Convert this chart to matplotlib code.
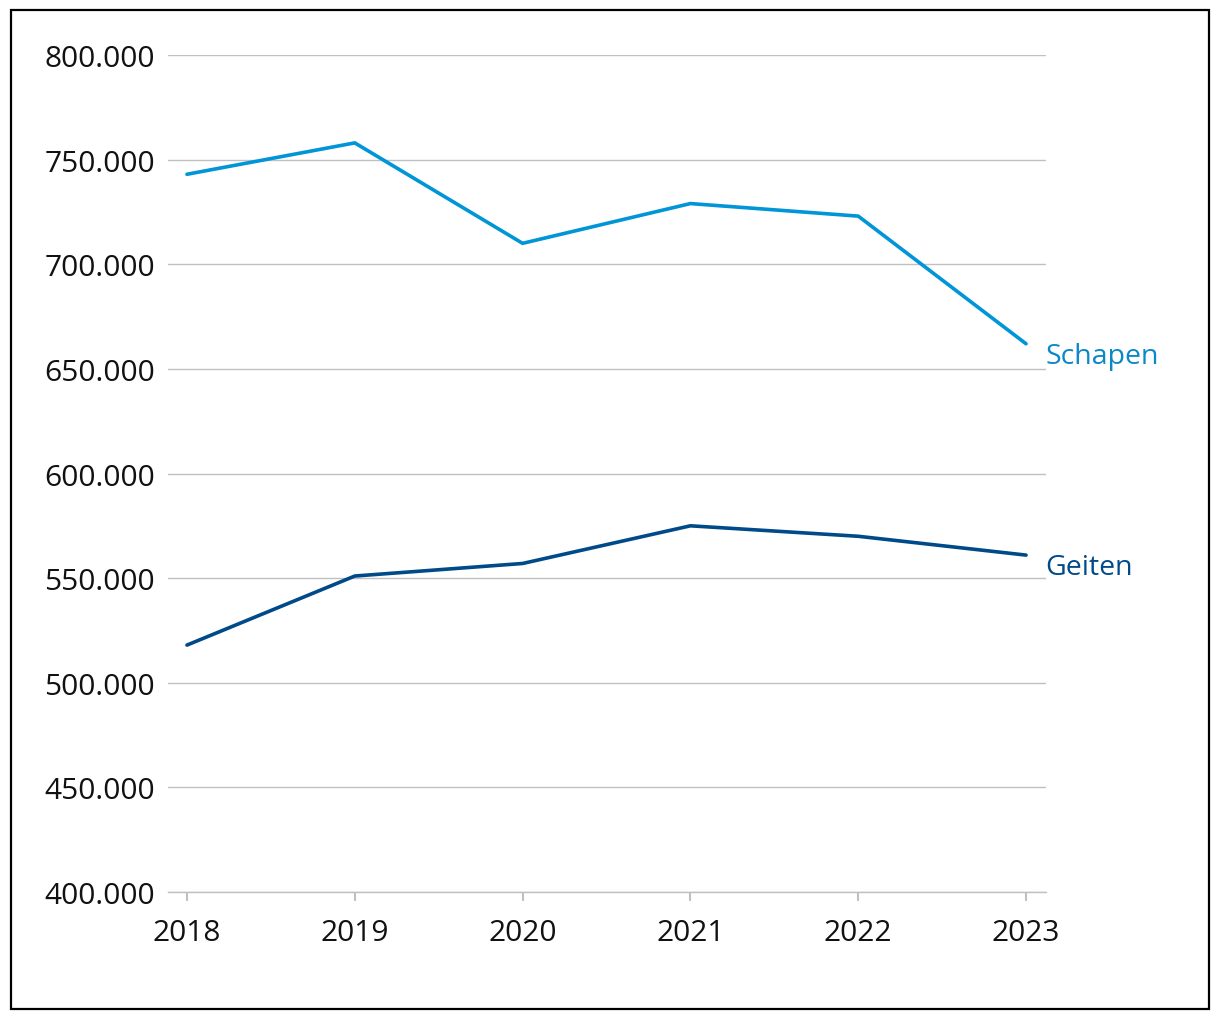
import matplotlib
matplotlib.use("Agg")
import matplotlib.pyplot as plt
from matplotlib.patches import Rectangle
from matplotlib.ticker import FuncFormatter

# data
years = [2018, 2019, 2020, 2021, 2022, 2023]
schapen = [743000, 758000, 710000, 729000, 723000, 662000]
geiten = [518000, 551000, 557000, 575000, 570000, 561000]
series_names = ["Schapen", "Geiten"]
series_colors = ["#0095d6", "#004a8a"]
label_colors = ["#0a88c8", "#004a8a"]

plt.rcParams['font.family'] = ['Open Sans', 'DejaVu Sans']

fig = plt.figure(figsize=(12.2, 10.2), dpi=100)
ax = fig.add_axes([168/1220, 127/1020, (1046-168)/1220, (893-56)/1020])

for vals, name, col, lcol in zip([schapen, geiten], series_names, series_colors, label_colors):
    ax.plot(years, vals, color=col, linewidth=2.6, solid_capstyle='round', clip_on=False)
    ax.annotate(name, (years[-1], vals[-1]), xytext=(14, -8.5), textcoords='offset points',
                ha='left', va='center', color=lcol, fontsize=20.5)

ax.set_ylim(400000, 800000)
ax.set_xlim(2017.887, 2023.119)
ax.set_yticks(range(400000, 800001, 50000))
ax.yaxis.set_major_formatter(FuncFormatter(lambda v, p: f"{int(v):,}".replace(",", ".")))
ax.set_xticks(years)

ax.grid(axis='y', color='#c0c0c0', linewidth=1)
ax.set_axisbelow(True)
for s in ['left', 'right', 'top']:
    ax.spines[s].set_visible(False)
ax.spines['bottom'].set_color('#c0c0c0')
ax.spines['bottom'].set_linewidth(1)

ax.tick_params(axis='y', length=0, pad=9.5, labelsize=21.5, labelcolor='#111111')
ax.tick_params(axis='x', length=6.5, width=1.5, color='#c0c0c0', pad=12,
               labelsize=21.5, labelcolor='#111111')

fig.patches.append(Rectangle((10.5/1220, 10.5/1020), 1198.5/1220, 998.5/1020,
                             transform=fig.transFigure, fill=False,
                             edgecolor='black', linewidth=1.6))

fig.savefig("out.png", dpi=100, facecolor='white')
